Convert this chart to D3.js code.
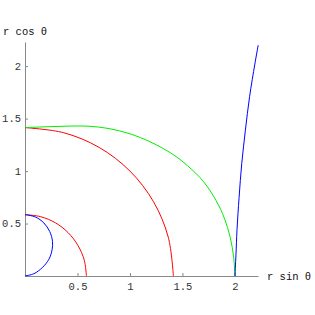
<!DOCTYPE html>
<html>
<head>
<meta charset="utf-8">
<script src="https://cdn.jsdelivr.net/npm/d3@7"></script>
<style>
  body { margin: 0; background: #fff; }
  svg { display: block; }
  .tick text { font-family: 'Liberation Mono', monospace; font-size: 10.5px; fill: #333; }
  .lbl { font-family: 'Liberation Mono', monospace; font-size: 10.5px; fill: #111; }
</style>
</head>
<body>
<div id="chart"></div>
<script>
// curves, [r sin θ, r cos θ]
const blueSmall = [[0, 0.585], [0.1, 0.562], [0.18, 0.505], [0.235, 0.425], [0.262, 0.33], [0.258, 0.25], [0.228, 0.16], [0.165, 0.08], [0.085, 0.022], [0, 0]];
const redSmall = [[0, 0.585], [0.15, 0.565], [0.29, 0.507], [0.41, 0.414], [0.505, 0.29], [0.565, 0.15], [0.585, 0]];
const redLarge = [[0, 1.414], [0.37, 1.365], [0.707, 1.225], [1.0, 1.0], [1.225, 0.707], [1.365, 0.37], [1.414, 0]];
const green = [[0, 1.414], [0.2, 1.422], [0.4, 1.428], [0.6, 1.428], [0.8, 1.405], [1.0, 1.355], [1.2, 1.275], [1.4, 1.165], [1.55, 1.05], [1.7, 0.9], [1.82, 0.72], [1.9, 0.55], [1.955, 0.37], [1.988, 0.18], [2, 0]];
const blueRight = [[2, 0], [2.01, 0.2], [2.02, 0.44], [2.04, 0.75], [2.065, 1.07], [2.1, 1.39], [2.14, 1.71], [2.19, 2.02], [2.222, 2.2]];
const xTicks = [0.5, 1, 1.5, 2];
const yTicks = [0.5, 1, 1.5, 2];

const curves = [
  { pts: redSmall, color: '#ff0000' },
  { pts: redLarge, color: '#ff0000' },
  { pts: green, color: '#00ee00' },
  { pts: blueSmall, color: '#0000ff' },
  { pts: blueRight, color: '#0000ff' }
];

const width = 315, height = 315;
const svg = d3.select('#chart').append('svg').attr('width', width).attr('height', height);

const x = d3.scaleLinear().domain([0, 2.22]).range([25, 258]);
const y = d3.scaleLinear().domain([0, 2.23]).range([276, 42]);

const xAxis = svg.append('g')
  .attr('transform', 'translate(0,' + y(0) + ')')
  .call(d3.axisBottom(x).tickValues(xTicks).tickFormat(d3.format('')).tickSize(-3).tickSizeOuter(0).tickPadding(7));
const yAxis = svg.append('g')
  .attr('transform', 'translate(' + x(0) + ',0)')
  .call(d3.axisLeft(y).tickValues(yTicks).tickFormat(d3.format('')).tickSize(-3).tickSizeOuter(0).tickPadding(4));
[xAxis, yAxis].forEach((g) => {
  g.select('.domain').attr('stroke', '#888');
  g.selectAll('.tick line').attr('stroke', '#888');
});

const line = d3.line().x((d) => x(d[0])).y((d) => y(d[1])).curve(d3.curveCatmullRom);

svg.selectAll('path.curve')
  .data(curves)
  .enter()
  .append('path')
  .attr('class', 'curve')
  .attr('d', (d) => line(d.pts))
  .attr('fill', 'none')
  .attr('stroke', (d) => d.color)
  .attr('stroke-width', 1);

svg.append('text').attr('class', 'lbl').attr('x', 3).attr('y', 35).text('r cos θ');
svg.append('text').attr('class', 'lbl').attr('x', 267).attr('y', 280).text('r sin θ');
</script>
</body>
</html>
